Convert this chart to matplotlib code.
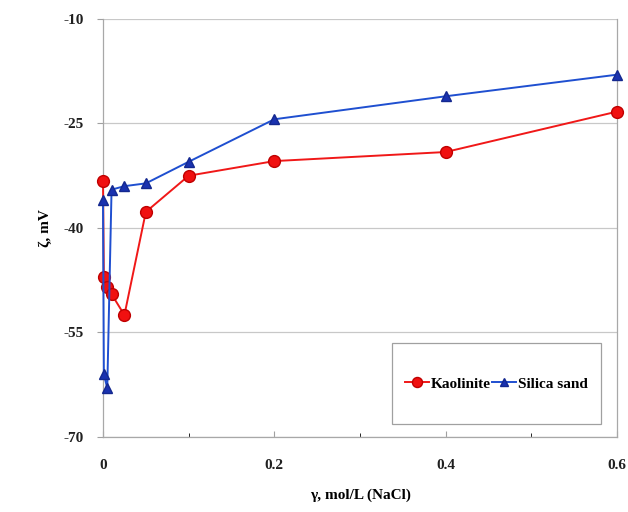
import matplotlib
matplotlib.use("Agg")
import matplotlib.pyplot as plt
from matplotlib.patches import Rectangle
from matplotlib.ticker import MultipleLocator

# NaCl concentration, mol/L
conc = [0, 0.001, 0.005, 0.01, 0.025, 0.05, 0.1, 0.2, 0.4, 0.6]
# zeta potential, mV
zeta_kaolinite = [-33.2, -47.0, -48.5, -49.5, -52.5, -37.7, -32.5, -30.4, -29.1, -23.3]
zeta_silica = [-36.0, -61.0, -63.0, -34.5, -34.0, -33.6, -30.5, -24.4, -21.1, -18.0]

xticks = [0, 0.2, 0.4, 0.6]
xticklabels = ["0", "0.2", "0.4", "0.6"]
yticks = [-70, -55, -40, -25, -10]

plt.rcParams["font.family"] = ["Liberation Serif", "DejaVu Serif"]
plt.rcParams["font.weight"] = "bold"
plt.rcParams["axes.unicode_minus"] = False

fig = plt.figure(figsize=(6.28, 5.12), dpi=100)
ax = fig.add_axes([0.164, 0.1465, 0.8185, 0.8165])

ax.plot(conc, zeta_kaolinite, "-o", color="#f01818", mfc="#f01010", mec="#c00000",
        ms=8.5, lw=1.4, label="Kaolinite", clip_on=False, zorder=3)
ax.plot(conc, zeta_silica, "-^", color="#1f4fd0", mfc="#1a32b0", mec="#14288f",
        ms=7.5, lw=1.4, label="Silica sand", clip_on=False, zorder=3)

ax.set_xlim(0, 0.6)
ax.set_ylim(-70, -10)
ax.set_xticks(xticks)
ax.set_xticklabels(xticklabels)
ax.xaxis.set_minor_locator(MultipleLocator(0.1))
ax.set_yticks(yticks)
ax.grid(axis="y", color="#c8c8c8", lw=0.9)
ax.set_axisbelow(True)

for side in ["left", "bottom", "right", "top"]:
    ax.spines[side].set_color("#a8a8a8")
    ax.spines[side].set_linewidth(0.9)
ax.spines["top"].set_visible(False)

ax.tick_params(axis="both", colors="#a0a0a0", labelcolor="#202020", labelsize=11,
               length=4, width=0.8)
ax.tick_params(axis="y", pad=10)
ax.tick_params(axis="x", which="both", direction="in", pad=16)
ax.tick_params(axis="x", which="minor", length=3)

ax.set_xlabel("γ, mol/L (NaCl)", fontsize=11, fontweight="bold", labelpad=12)
ax.set_ylabel("ζ, mV", fontsize=11, fontweight="bold", labelpad=8)

# legend box in the lower right corner
ax.add_patch(Rectangle((0.562, 0.03), 0.406, 0.195, transform=ax.transAxes,
                       fill=True, facecolor="white", edgecolor="#a0a0a0", lw=0.9, zorder=4))
leg = ax.legend(loc="center", bbox_to_anchor=(0.765, 0.1275), ncol=2, frameon=False,
                handlelength=1.6, handletextpad=0.1, columnspacing=0.1, markerscale=0.85,
                prop={"weight": "bold", "size": 11})
leg.set_zorder(5)

fig.savefig("out.png", dpi=100, facecolor="white")
